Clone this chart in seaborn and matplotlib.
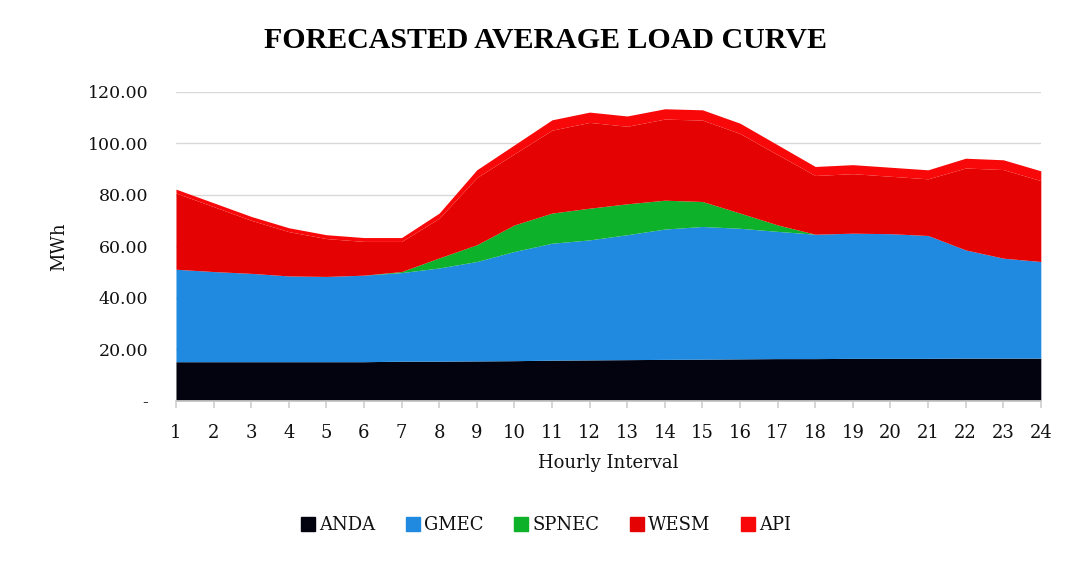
import matplotlib
matplotlib.use("Agg")
import matplotlib.pyplot as plt
import seaborn as sns
import pandas as pd

hours = list(range(1, 25))
anda = [15.2, 15.2, 15.2, 15.2, 15.2, 15.2, 15.4, 15.4, 15.5, 15.6, 15.8, 15.9,
        16.0, 16.1, 16.2, 16.3, 16.4, 16.4, 16.5, 16.5, 16.5, 16.6, 16.6, 16.6]
gmec = [35.9, 35.0, 34.3, 33.3, 33.1, 33.6, 34.4, 36.2, 38.6, 42.4, 45.4, 46.6,
        48.5, 50.6, 51.5, 50.7, 49.4, 48.3, 48.6, 48.4, 47.7, 42.0, 38.8, 37.5]
spnec = [0.0, 0.0, 0.0, 0.0, 0.0, 0.0, 0.4, 3.9, 6.5, 10.3, 11.7, 12.3,
         12.0, 11.2, 9.7, 5.9, 2.5, 0.0, 0.0, 0.0, 0.0, 0.0, 0.0, 0.0]
wesm = [29.6, 25.2, 20.6, 17.2, 14.7, 13.1, 11.7, 15.4, 26.1, 27.6, 32.2, 33.3,
        30.1, 31.5, 31.6, 30.9, 27.3, 22.8, 23.1, 22.3, 22.0, 31.8, 34.4, 31.4]
api = [1.5, 1.5, 1.5, 1.5, 1.5, 1.5, 1.5, 2.0, 3.0, 3.5, 4.0, 4.0,
       4.0, 4.0, 4.0, 4.0, 3.8, 3.5, 3.5, 3.5, 3.5, 3.8, 3.8, 3.8]
series_names = ["ANDA", "GMEC", "SPNEC", "WESM", "API"]
colors = ["#02030f", "#1f8ae0", "#0db12a", "#e40202", "#f80808"]
ytick_vals = [0, 20, 40, 60, 80, 100, 120]
ytick_labels = ["-", "20.00", "40.00", "60.00", "80.00", "100.00", "120.00"]

df = pd.DataFrame({"Hour": hours, "ANDA": anda, "GMEC": gmec, "SPNEC": spnec,
                   "WESM": wesm, "API": api})

sns.set_theme(style="white")
plt.rcParams["font.family"] = ["DejaVu Serif", "Liberation Serif"]
txt = "#111111"
plt.rcParams["text.color"] = txt
plt.rcParams["axes.labelcolor"] = txt
plt.rcParams["xtick.labelcolor"] = txt
plt.rcParams["ytick.labelcolor"] = txt

fig = plt.figure(figsize=(10.73, 5.63), dpi=100)
ax = fig.add_axes([0.164, 0.288, 0.806, 0.549])

for y in ytick_vals[1:]:
    ax.axhline(y, color="#d9d9d9", lw=1, zorder=0)

ax.stackplot(df["Hour"], *[df[n] for n in series_names], colors=colors,
             labels=series_names, zorder=2, linewidth=0)

ax.set_xlim(1, 24)
ax.set_ylim(0, 120)
ax.set_xticks(hours)
ax.set_xticklabels([str(h) for h in hours], fontsize=13, color=txt)
ax.set_yticks(ytick_vals)
ax.set_yticklabels(ytick_labels, fontsize=12.5, color=txt)
ax.tick_params(axis="x", length=5, color="#d0d0d0", pad=12, bottom=True)
ax.tick_params(axis="y", length=0, pad=20)
for lab in ax.get_yticklabels():
    lab.set_horizontalalignment("right")

sns.despine(ax=ax, left=True, top=True, right=True)
ax.spines["bottom"].set_color("#d0d0d0")

ax.set_xlabel("Hourly Interval", fontsize=13, labelpad=8, color=txt)
ax.set_ylabel("MWh", fontsize=13, labelpad=14, color=txt)

fig.suptitle("FORECASTED AVERAGE LOAD CURVE", fontsize=21.5, fontweight="bold",
             family="Liberation Serif", x=0.508, y=0.952, color="#000000")

handles = [plt.Line2D([], [], marker="s", linestyle="", color=c, markersize=10)
           for c in colors]
leg = fig.legend(handles, series_names, loc="center", bbox_to_anchor=(0.508, 0.067),
                 ncol=5, frameon=False, fontsize=13, handletextpad=0.1,
                 columnspacing=1.6, handlelength=1.0)
for t in leg.get_texts():
    t.set_color(txt)

fig.savefig("out.png", dpi=100)
